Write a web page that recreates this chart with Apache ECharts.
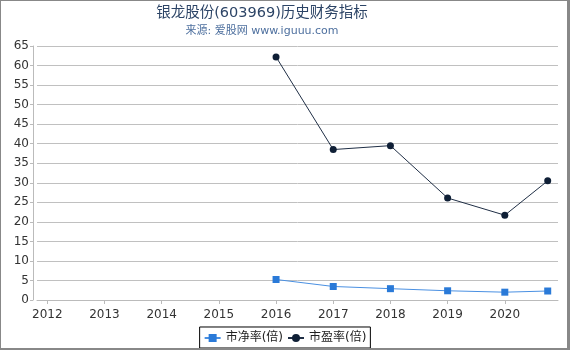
<!DOCTYPE html>
<html><head><meta charset="utf-8">
<script src="https://cdn.jsdelivr.net/npm/echarts@6/dist/echarts.min.js"></script>
<style>
html,body{margin:0;padding:0;background:#fff;}
#wrap{width:570px;height:350px;box-sizing:border-box;border-top:1px solid #888;border-left:1px solid #888;border-right:3px solid #888;border-bottom:2px solid #888;position:relative;overflow:hidden;}
#c{position:absolute;left:-1px;top:-1px;width:570px;height:350px;}
</style></head>
<body><div id="wrap"><div id="c"></div></div>
<script>
var titleText = '银龙股份(603969)历史财务指标';
var subText = '来源: 爱股网 www.iguuu.com';
var yearTicks = [2012, 2013, 2014, 2015, 2016, 2017, 2018, 2019, 2020];
var xPoints = [2016, 2017, 2018, 2019, 2020, 2020.75];
var pbValues = [5.25, 3.46, 2.9, 2.36, 2.0, 2.3];
var peValues = [62.2, 38.5, 39.5, 26.1, 21.7, 30.5];
var pbName = '市净率(倍)';
var peName = '市盈率(倍)';

function pairs(xs, ys){ return xs.map(function(x,i){ return [x, ys[i]]; }); }
var splitColors = ['rgba(0,0,0,0)'];
for (var i = 0; i < 13; i++) splitColors.push('#c0c0c0');
var ff = 'DejaVu Sans, "Noto Sans CJK SC", sans-serif';

var chart = echarts.init(document.getElementById('c'), null, {renderer:'canvas'});
chart.setOption({
  animation:false,
  backgroundColor:'transparent',
  textStyle:{fontFamily:ff},
  title:[
    {text:titleText, left:257, top:1, textAlign:'center',
     textStyle:{fontSize:14.5, fontWeight:'normal', color:'#2c4466', fontFamily:ff}},
    {text:subText, left:257, top:21, textAlign:'center',
     textStyle:{fontSize:11, fontWeight:'normal', color:'#4d6f9e', fontFamily:ff}}
  ],
  grid:{left:37, right:12, top:46, bottom:50, containLabel:false},
  legend:{
    data:[pbName, peName], bottom:2, left:'center',
    borderColor:'#000', borderWidth:1, borderRadius:0, padding:[5,4,4,4],
    itemWidth:16, itemHeight:10, itemGap:4,
    textStyle:{fontSize:12, color:'#222', fontFamily:ff}
  },
  xAxis:{
    type:'value', min:2011.82, max:2020.93, offset:4,
    axisLine:{show:true, lineStyle:{color:'#bbb'}},
    axisTick:{show:true, customValues:yearTicks, length:4, lineStyle:{color:'#bbb'}},
    axisLabel:{customValues:yearTicks, color:'#333', fontSize:12, margin:5, formatter:function(v){return String(v);}},
    splitLine:{show:false}
  },
  yAxis:{
    type:'value', min:0, max:65, interval:5, offset:4,
    axisLine:{show:true, lineStyle:{color:'#bbb'}},
    axisTick:{show:true, length:3, lineStyle:{color:'#bbb'}},
    axisLabel:{color:'#333', fontSize:12, margin:4},
    splitLine:{show:true, lineStyle:{color:splitColors, width:1}}
  },
  series:[
    {name:pbName, type:'line', data:pairs(xPoints, pbValues), symbol:'rect', symbolSize:7,
     itemStyle:{color:'#2a7ad8'}, lineStyle:{color:'#4a90e2', width:1}},
    {name:peName, type:'line', data:pairs(xPoints, peValues), symbol:'circle', symbolSize:7,
     itemStyle:{color:'#0f1f36'}, lineStyle:{color:'#1f2e45', width:1}}
  ]
});
</script></body></html>
